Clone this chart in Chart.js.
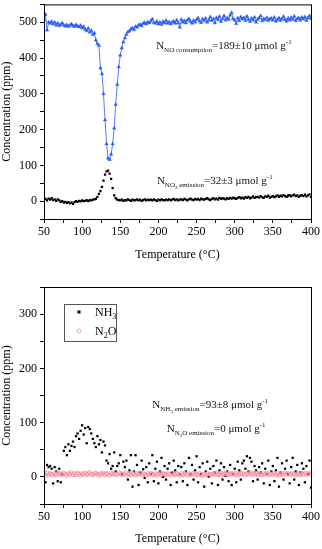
<!DOCTYPE html>
<html>
<head>
<meta charset="utf-8">
<script src="https://cdn.jsdelivr.net/npm/chart.js@4"></script>
<style>
  body { margin: 0; background: #fff; }
  #topChart { position: absolute; left: 0; top: 0; }
  #bottomChart { position: absolute; left: 0; top: 270px; }
</style>
</head>
<body>
<canvas id="topChart" width="322" height="270"></canvas>
<canvas id="bottomChart" width="322" height="279"></canvas>
<script>
// --- DONNEES ---
const temps = [
  50,52,54,56,58,60,62,64,66,68,
  70,72,74,76,78,80,82,84,86,88,
  90,92,94,96,98,100,102,104,106,108,
  110,112,114,116,118,120,122,124,126,128,
  130,132,134,136,138,140,142,144,146,148,
  150,152,154,156,158,160,162,164,166,168,
  170,172,174,176,178,180,182,184,186,188,
  190,192,194,196,198,200,202,204,206,208,
  210,212,214,216,218,220,222,224,226,228,
  230,232,234,236,238,240,242,244,246,248,
  250,252,254,256,258,260,262,264,266,268,
  270,272,274,276,278,280,282,284,286,288,
  290,292,294,296,298,300,302,304,306,308,
  310,312,314,316,318,320,322,324,326,328,
  330,332,334,336,338,340,342,344,346,348,
  350,352,354,356,358,360,362,364,366,368,
  370,372,374,376,378,380,382,384,386,388,
  390,392,394,396,398,400
];

// NO (ppm), graphe du haut
const noConc = [
  508,522,478,500,497,502,495,500,492,497,
  490,494,498,492,489,493,488,492,495,490,
  488,493,489,487,491,484,488,480,476,483,
  472,477,466,470,450,440,435,372,356,300,
  227,160,120,116,131,160,204,270,326,375,
  408,428,445,456,466,473,476,481,484,479,
  488,486,492,494,490,497,499,495,501,498,
  503,509,499,497,503,495,500,494,502,498,
  505,497,501,495,500,503,497,506,498,486,
  508,500,504,498,506,510,502,497,505,500,
  507,512,503,499,509,504,511,500,506,515,
  505,509,498,513,507,516,502,510,518,506,
  512,508,520,527,510,506,496,512,504,515,
  509,513,505,517,508,502,511,506,514,500,
  508,512,518,504,510,507,513,505,509,511,
  506,514,503,508,512,505,510,516,507,503,
  511,506,513,508,517,504,510,512,506,514,
  509,515,505,512,518,510
];

// NO2 (ppm), graphe du haut
const no2Conc = [
  3,6,2,7,4,8,3,5,1,5,
  2,-2,0,-4,-2,-5,-3,-6,-4,-8,
  -3,0,-2,1,-1,2,0,1,3,0,
  3,2,4,5,6,12,20,28,40,57,
  74,83,85,77,62,36,16,8,4,3,
  2,4,1,3,2,5,3,1,4,2,
  3,5,2,4,1,3,5,2,4,3,
  4,2,5,3,1,4,2,5,3,2,
  4,3,5,2,4,6,3,5,2,4,
  5,3,6,4,2,5,7,4,3,6,
  4,6,3,7,5,4,6,8,5,3,
  6,8,5,7,4,9,6,8,7,5,
  8,6,9,7,10,8,6,9,11,8,
  10,7,11,9,12,8,10,13,9,11,
  12,10,14,11,9,13,12,15,10,12,
  14,11,13,16,12,15,13,17,14,12,
  15,17,13,16,18,14,16,12,15,17,
  14,18,13,16,19,12
];

// NH3 (ppm), graphe du bas
const nh3Conc = [
  28,-10,22,18,20,15,-12,18,10,-8,
  15,-10,5,48,55,40,60,48,57,65,
  55,75,80,70,85,95,78,90,62,92,
  88,80,70,62,55,75,60,68,45,65,
  58,30,25,42,15,20,45,10,20,25,
  40,5,28,18,30,-5,12,40,-18,10,
  40,22,-15,8,30,14,-2,18,-10,25,
  5,40,-8,15,28,-12,10,35,0,20,
  -5,15,25,-15,8,30,12,-10,20,5,
  18,-8,25,10,-15,35,5,22,-5,12,
  38,-10,18,5,25,-18,10,28,0,15,
  -12,20,8,30,-15,12,25,-5,18,2,
  10,-8,22,-15,5,15,-10,28,12,-5,
  25,30,15,38,10,35,28,-8,20,12,
  -5,18,8,25,-12,15,5,30,-15,10,
  20,-8,12,35,-18,8,25,-5,15,30,
  5,-12,18,35,-5,10,22,-15,8,25,
  15,-10,20,5,30,-20
];

// N2O (ppm), graphe du bas
const n2oConc = [
  5,3,7,4,6,5,3,6,4,7,
  5,6,4,7,5,3,6,5,8,4,
  6,4,7,5,3,6,5,7,4,6,
  8,5,4,6,7,5,3,6,5,7,
  4,6,5,3,7,5,6,4,5,8,
  6,4,5,7,3,6,5,4,7,5,
  3,6,5,7,4,6,5,3,6,4,
  7,5,4,6,3,5,7,4,6,5,
  4,6,5,3,7,5,4,6,5,3,
  6,4,7,5,3,6,4,5,7,4,
  5,3,6,4,2,5,4,6,3,5,
  4,6,5,7,4,5,3,6,5,7,
  5,4,6,5,7,4,6,3,5,6,
  7,5,4,6,5,8,4,6,5,7,
  4,6,5,3,6,5,7,4,6,5,
  5,7,4,6,3,5,6,4,7,5,
  6,4,5,7,5,3,6,5,4,6,
  5,7,4,6,5,8
];

const FONT = "'Liberation Serif', 'Times New Roman', serif";
Chart.defaults.font.family = FONT;
Chart.defaults.font.size = 12;
Chart.defaults.color = "#000";

const pts = vals => temps.map((t, i) => ({ x: t, y: vals[i] }));

// --- TEXTE AVEC INDICES ---
function richText(ctx, x, y, parts) {
  for (const [txt, size, dy] of parts) {
    ctx.font = size + "px " + FONT;
    ctx.fillText(txt, x, y + dy);
    x += ctx.measureText(txt).width;
  }
}

const framePlugin = {
  id: "frame",
  afterDraw(chart) {
    const { ctx, chartArea: a } = chart;
    ctx.save();
    ctx.strokeStyle = "#000";
    ctx.lineWidth = 1;
    ctx.strokeRect(a.left + 0.5, a.top + 0.5, a.right - a.left, a.bottom - a.top);
    ctx.restore();
  }
};

function notesPlugin(notes) {
  return {
    id: "notes",
    afterDraw(chart) {
      const { ctx, scales } = chart;
      ctx.save();
      ctx.fillStyle = "#111";
      ctx.textBaseline = "alphabetic";
      notes.forEach(n => richText(ctx, scales.x.getPixelForValue(n.x), scales.y.getPixelForValue(n.y), n.parts));
      ctx.restore();
    }
  };
}

function axes(yMin, yMax, xHeight, titlePad) {
  return {
    x: {
      type: "linear", min: 50, max: 400,
      ticks: { stepSize: 25, autoSkip: false, maxRotation: 0, padding: 2,
        callback: v => (v % 50 === 0 ? v : "") },
      grid: { drawOnChartArea: false, tickLength: 4, color: "#000" },
      border: { color: "#000" },
      title: { display: true, text: "Temperature (°C)", padding: { top: 0, bottom: titlePad } },
      afterFit: s => { s.height = xHeight; s.paddingLeft = 0; s.paddingRight = 0; }
    },
    y: {
      min: yMin, max: yMax,
      ticks: { stepSize: 50, autoSkip: false, padding: 3,
        callback: v => (v % 100 === 0 && v >= 0 ? v : "") },
      grid: { drawOnChartArea: false, tickLength: 4, color: "#000" },
      border: { color: "#000" },
      title: { display: true, text: "Concentration (ppm)", padding: 0 },
      afterFit: s => { s.width = 44; s.paddingTop = 0; s.paddingBottom = 0; }
    }
  };
}

const baseOpts = {
  responsive: false,
  animation: false,
  events: [],
  plugins: { legend: { display: false }, tooltip: { enabled: false } }
};

// --- GRAPHE DU HAUT ---
new Chart(document.getElementById("topChart"), {
  type: "line",
  data: {
    datasets: [{
      label: "NO",
      data: pts(noConc),
      borderColor: "#2a5cf5",
      backgroundColor: "#2a5cf5",
      borderWidth: 0.8,
      pointStyle: "triangle",
      pointRadius: 2,
      pointBorderWidth: 0.4,
      tension: 0
    }, {
      label: "NO2",
      data: pts(no2Conc),
      showLine: false,
      borderColor: "#000",
      backgroundColor: "#000",
      pointStyle: "rect",
      pointRadius: 1.6,
      pointBorderWidth: 0
    }]
  },
  options: Object.assign({}, baseOpts, {
    layout: { padding: { top: 2, right: 11, left: 0, bottom: 0 } },
    scales: axes(-50, 550, 51, 8)
  }),
  plugins: [framePlugin, notesPlugin([
    { x: 197, y: 425, parts: [["N", 11, 0], ["NO consumption", 7, 3], ["=189±10 μmol g", 11, 0], ["-1", 7, -5]] },
    { x: 198, y: 47, parts: [["N", 11, 0], ["NO", 7, 3], ["2", 5, 5], [" emission", 7, 3], ["=32±3 μmol g", 11, 0], ["-1", 7, -5]] }
  ])]
});

// --- GRAPHE DU BAS ---
const legendPlugin = {
  id: "boxLegend",
  afterDraw(chart) {
    const { ctx, chartArea: a } = chart;
    const x0 = a.left + 20, y0 = a.top + 17;
    ctx.save();
    ctx.fillStyle = "#fff";
    ctx.fillRect(x0, y0, 52, 37);
    ctx.strokeStyle = "#555";
    ctx.lineWidth = 1;
    ctx.strokeRect(x0 + 0.5, y0 + 0.5, 52, 37);
    const rows = [
      { ds: chart.data.datasets[0], parts: [["NH", 12, 0], ["3", 8, 3]] },
      { ds: chart.data.datasets[1], parts: [["N", 12, 0], ["2", 8, 3], ["O", 12, 0]] }
    ];
    rows.forEach((r, i) => {
      const cy = y0 + 8 + i * 19;
      ctx.fillStyle = "#000";
      ctx.textBaseline = "alphabetic";
      richText(ctx, x0 + 31, cy + 4, r.parts);
      ctx.fillStyle = r.ds.backgroundColor;
      ctx.strokeStyle = r.ds.borderColor;
      ctx.lineWidth = r.ds.pointBorderWidth;
      ctx.beginPath();
      if (r.ds.pointStyle === "rect") {
        ctx.fillRect(x0 + 15 - 1.5, cy - 1.5, 3, 3);
      } else {
        ctx.arc(x0 + 15, cy, r.ds.pointRadius, 0, Math.PI * 2);
        ctx.stroke();
      }
    });
    ctx.restore();
  }
};

new Chart(document.getElementById("bottomChart"), {
  type: "line",
  data: {
    datasets: [{
      label: "NH3",
      data: pts(nh3Conc),
      showLine: false,
      borderColor: "#000",
      backgroundColor: "#000",
      pointStyle: "rect",
      pointRadius: 1.6,
      pointBorderWidth: 0,
      order: 1
    }, {
      label: "N2O",
      data: pts(n2oConc),
      showLine: false,
      borderColor: "#f08a96",
      backgroundColor: "rgba(255,255,255,0)",
      pointStyle: "circle",
      pointRadius: 2,
      pointBorderWidth: 0.8,
      order: 0
    }]
  },
  options: Object.assign({}, baseOpts, {
    layout: { padding: { top: 17, right: 11, left: 0, bottom: 0 } },
    scales: axes(-50, 350, 45, 3)
  }),
  plugins: [framePlugin, legendPlugin, notesPlugin([
    { x: 192, y: 127, parts: [["N", 11, 0], ["NH", 7, 3], ["3", 5, 5], [" emission", 7, 3], ["=93±8 μmol g", 11, 0], ["-1", 7, -5]] },
    { x: 211, y: 83, parts: [["N", 11, 0], ["N", 7, 3], ["2", 5, 5], ["O emission", 7, 3], ["=0 μmol g", 11, 0], ["-1", 7, -5]] }
  ])]
});
</script>
</body>
</html>
